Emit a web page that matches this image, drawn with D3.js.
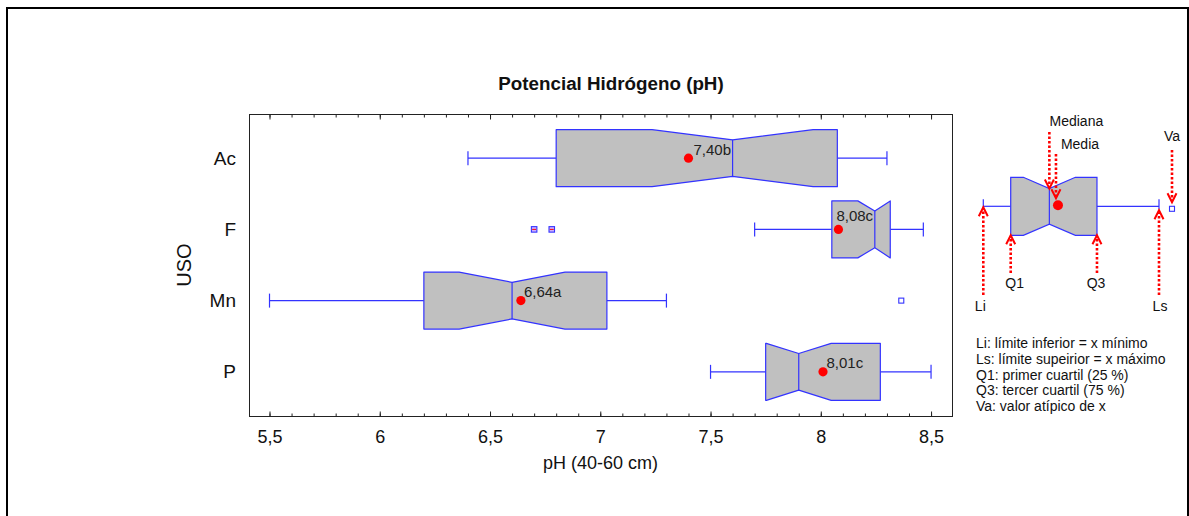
<!DOCTYPE html>
<html>
<head>
<meta charset="utf-8">
<script src="https://cdn.jsdelivr.net/npm/d3@7"></script>
<style>
  html, body { margin: 0; padding: 0; background: #fff; }
  svg { display: block; font-family: "Liberation Sans", Arial, sans-serif; }
</style>
</head>
<body>
<svg id="chart" width="1189" height="516"></svg>
<script>
// ---------------- data ----------------
const categories = ["Ac", "F", "Mn", "P"];
const minVals    = [6.40, 7.70, 5.50, 7.50];
const q1Vals     = [6.80, 8.05, 6.20, 7.75];
const medianVals = [7.60, 8.245, 6.60, 7.90];
const q3Vals     = [8.075, 8.315, 7.03, 8.27];
const maxVals    = [8.30, 8.465, 7.30, 8.50];
const meanVals   = [7.40, 8.08, 6.64, 8.01];
const notchHalfWidths = [0.365, 0.077, 0.24, 0.147];
const meanLabels = ["7,40b", "8,08c", "6,64a", "8,01c"];

const outlierCats = ["F", "F", "Mn"];
const outlierVals = [6.70, 6.78, 8.365];
const outlierFar  = [true, true, false];

const xTickValues = [5.5, 6, 6.5, 7, 7.5, 8, 8.5];
const xTickLabels = ["5,5", "6", "6,5", "7", "7,5", "8", "8,5"];

const titleText = "Potencial Hidrógeno (pH)";
const xTitle = "pH (40-60 cm)";
const yTitle = "USO";

const legendLines = [
  "Li: límite inferior = x mínimo",
  "Ls: límite supeirior = x máximo",
  "Q1: primer cuartil (25 %)",
  "Q3: tercer cuartil (75 %)",
  "Va: valor atípico de x"
];
// schematic legend values (arbitrary units 0..100)
const legendSchema = { li: 0, q1: 15.6, med: 37.6, mean: 42.5, q3: 64.7, ls: 100, va: 107.4, notch: 14.8 };

// ---------------- layout ----------------
const svg = d3.select("#chart");
const BLUE = "#3333ff";
const FILL = "#c0c0c0";
const RED = "#ff0000";
const plot = { left: 249, right: 952, top: 114, bottom: 416 };

// outer frame
svg.append("path")
  .attr("d", `M7,517 L7,8 L1188,8 L1188,517`)
  .attr("fill", "none").attr("stroke", "#000").attr("stroke-width", 2);

const x = d3.scaleLinear().domain([5.407, 8.595]).range([plot.left, plot.right]);
const y = d3.scalePoint().domain(categories).range([plot.top, plot.bottom]).padding(0.62);

const boxHalf = 28.5, notchHalfH = 18.3, capHalf = 7;

// plot frame
svg.append("rect")
  .attr("x", plot.left + 0.5).attr("y", plot.top + 0.5)
  .attr("width", plot.right - plot.left).attr("height", plot.bottom - plot.top)
  .attr("fill", "none").attr("stroke", "#222").attr("stroke-width", 1);

// ticks (major + minor) bottom and top
const minorTicks = d3.range(55, 86).map(d => d / 10);
function addTicks(axisFn, ty) {
  const gMinor = svg.append("g").attr("transform", `translate(0,${ty})`)
    .call(axisFn(x).tickValues(minorTicks).tickSize(3).tickFormat(""));
  const gMajor = svg.append("g").attr("transform", `translate(0,${ty})`)
    .call(axisFn(x).tickValues(xTickValues).tickSize(5).tickFormat(""));
  [gMinor, gMajor].forEach(g => {
    g.select(".domain").remove();
    g.selectAll(".tick line").attr("stroke", "#222");
  });
}
addTicks(d3.axisTop, plot.bottom + 0.5);
addTicks(d3.axisBottom, plot.top + 0.5);

// x tick labels
const gx = svg.append("g").attr("transform", `translate(0,${plot.bottom})`)
  .call(d3.axisBottom(x).tickValues(xTickValues).tickSize(0).tickPadding(14)
    .tickFormat((d, i) => xTickLabels[i]));
gx.select(".domain").remove();
gx.selectAll("text").attr("font-size", 18).attr("fill", "#111")
  .attr("font-family", "Liberation Sans, Arial, sans-serif");

// y category labels
const gy = svg.append("g").attr("transform", `translate(${plot.left},0)`)
  .call(d3.axisLeft(y).tickSize(0).tickPadding(13));
gy.select(".domain").remove();
gy.selectAll("text").attr("font-size", 19).attr("fill", "#111")
  .attr("font-family", "Liberation Sans, Arial, sans-serif");

// titles
svg.append("text").attr("x", 611).attr("y", 90).attr("text-anchor", "middle")
  .attr("font-size", 18.8).attr("font-weight", "bold").attr("fill", "#111").text(titleText);
svg.append("text").attr("x", (plot.left + plot.right) / 2).attr("y", 469).attr("text-anchor", "middle")
  .attr("font-size", 18).attr("fill", "#111").text(xTitle);
svg.append("text").attr("transform", `translate(191,265) rotate(-90)`).attr("text-anchor", "middle")
  .attr("font-size", 20).attr("fill", "#111").text(yTitle);

// ---------------- boxes ----------------
function notchPath(q1, med, q3, nw, cy, H, h, sx) {
  const n1 = Math.max(sx(q1), sx(med - nw));
  const n2 = Math.min(sx(q3), sx(med + nw));
  const a = sx(q1), m = sx(med), b = sx(q3);
  const t = cy - H, bt = cy + H;
  return `M${a},${t} L${n1},${t} L${m},${cy - h} L${n2},${t} L${b},${t} L${b},${bt} L${n2},${bt} L${m},${cy + h} L${n1},${bt} L${a},${bt} Z`;
}

const rows = categories.map((c, i) => ({
  c, min: minVals[i], q1: q1Vals[i], med: medianVals[i], q3: q3Vals[i], max: maxVals[i],
  mean: meanVals[i], nw: notchHalfWidths[i], label: meanLabels[i]
}));

const g = svg.append("g");
rows.forEach(r => {
  const cy = y(r.c);
  // whiskers
  g.append("line").attr("x1", x(r.min)).attr("x2", x(r.q1)).attr("y1", cy).attr("y2", cy)
    .attr("stroke", BLUE).attr("stroke-width", 1.2);
  g.append("line").attr("x1", x(r.q3)).attr("x2", x(r.max)).attr("y1", cy).attr("y2", cy)
    .attr("stroke", BLUE).attr("stroke-width", 1.2);
  [r.min, r.max].forEach(v => g.append("line").attr("x1", x(v)).attr("x2", x(v))
    .attr("y1", cy - capHalf).attr("y2", cy + capHalf).attr("stroke", BLUE).attr("stroke-width", 1.2));
  // box
  g.append("path").attr("d", notchPath(r.q1, r.med, r.q3, r.nw, cy, boxHalf, notchHalfH, x))
    .attr("fill", FILL).attr("stroke", BLUE).attr("stroke-width", 1.2).attr("stroke-linejoin", "round");
  // median
  g.append("line").attr("x1", x(r.med)).attr("x2", x(r.med))
    .attr("y1", cy - notchHalfH).attr("y2", cy + notchHalfH).attr("stroke", BLUE).attr("stroke-width", 1.2);
  // mean
  g.append("circle").attr("cx", x(r.mean)).attr("cy", cy).attr("r", 4.6).attr("fill", RED);
});

// mean labels
const labelOffsets = { Ac: [5, -3], F: [-2, -8], Mn: [3, -4], P: [3.5, -4] };
rows.forEach(r => {
  const off = labelOffsets[r.c];
  g.append("text").attr("x", x(r.mean) + off[0]).attr("y", y(r.c) + off[1])
    .attr("font-size", 15).attr("fill", "#222").text(r.label);
});

// outliers
outlierVals.forEach((v, i) => {
  const cx = x(v), cy = y(outlierCats[i]);
  const s = outlierFar[i] ? 5.5 : 5;
  g.append("rect").attr("x", cx - s / 2).attr("y", cy - s / 2).attr("width", s).attr("height", s)
    .attr("fill", outlierFar[i] ? "#d0b0ff" : "#fff").attr("stroke", BLUE).attr("stroke-width", 1.1);
  if (outlierFar[i]) {
    g.append("line").attr("x1", cx - 2).attr("x2", cx + 2).attr("y1", cy).attr("y2", cy)
      .attr("stroke", RED).attr("stroke-width", 1);
  }
});

// ---------------- legend schematic ----------------
const lx = d3.scaleLinear().domain([0, 100]).range([983.3, 1159]);
const lcy = 206.3, lH = 29, lh = 17.8;
const L = svg.append("g");
const S = legendSchema;
L.append("line").attr("x1", lx(S.li)).attr("x2", lx(S.q1)).attr("y1", lcy).attr("y2", lcy).attr("stroke", BLUE).attr("stroke-width", 1.2);
L.append("line").attr("x1", lx(S.q3)).attr("x2", lx(S.ls)).attr("y1", lcy).attr("y2", lcy).attr("stroke", BLUE).attr("stroke-width", 1.2);
[S.li, S.ls].forEach(v => L.append("line").attr("x1", lx(v)).attr("x2", lx(v))
  .attr("y1", lcy - 7).attr("y2", lcy + 3).attr("stroke", BLUE).attr("stroke-width", 1.2));
L.append("path").attr("d", notchPath(S.q1, S.med, S.q3, S.notch, lcy, lH, lh, lx))
  .attr("fill", FILL).attr("stroke", BLUE).attr("stroke-width", 1.2);
L.append("line").attr("x1", lx(S.med)).attr("x2", lx(S.med)).attr("y1", lcy - lh).attr("y2", lcy + lh)
  .attr("stroke", BLUE).attr("stroke-width", 1.2);
L.append("circle").attr("cx", lx(S.mean)).attr("cy", lcy - 1).attr("r", 5).attr("fill", RED);
L.append("rect").attr("x", lx(S.va) - 2.5).attr("y", lcy).attr("width", 5).attr("height", 5)
  .attr("fill", "#fff").attr("stroke", BLUE).attr("stroke-width", 1.1);

function arrow(xp, yFrom, yTip) {
  const dir = yTip > yFrom ? 1 : -1;
  L.append("line").attr("x1", xp).attr("x2", xp).attr("y1", yFrom).attr("y2", yTip - dir * 2)
    .attr("stroke", RED).attr("stroke-width", 2.6).attr("stroke-dasharray", "2.5,2");
  L.append("path").attr("d", `M${xp - 4.5},${yTip - dir * 9} L${xp},${yTip} L${xp + 4.5},${yTip - dir * 9}`)
    .attr("fill", "none").attr("stroke", RED).attr("stroke-width", 2);
}
arrow(lx(S.med), 132, lcy - lh);
arrow(lx(S.mean) - 2, 154, lcy - 8);
arrow(lx(S.va), 150, lcy - 4);
arrow(lx(S.li), 295, lcy + 1);
arrow(lx(S.ls), 295, lcy + 4);
arrow(lx(S.q1), 273, lcy + lH);
arrow(lx(S.q3), 273, lcy + lH);

const legendLabels = [
  { t: "Mediana", v: S.med, dx: 27, y: 126 },
  { t: "Media", v: S.mean, dx: 22, y: 149 },
  { t: "Va", v: S.va, dx: 0, y: 141 },
  { t: "Q1", v: S.q1, dx: 4, y: 288 },
  { t: "Q3", v: S.q3, dx: -1, y: 288 },
  { t: "Li", v: S.li, dx: -3, y: 311 },
  { t: "Ls", v: S.ls, dx: 1, y: 311 }
];
legendLabels.forEach(d => L.append("text").attr("x", lx(d.v) + d.dx).attr("y", d.y)
  .attr("text-anchor", "middle").attr("font-size", 14).attr("fill", "#111").text(d.t));

L.selectAll(null).data(legendLines).enter().append("text")
  .attr("x", 976).attr("y", (d, i) => 348 + i * 15.8)
  .attr("font-size", 14).attr("fill", "#111").text(d => d);
</script>
</body>
</html>
